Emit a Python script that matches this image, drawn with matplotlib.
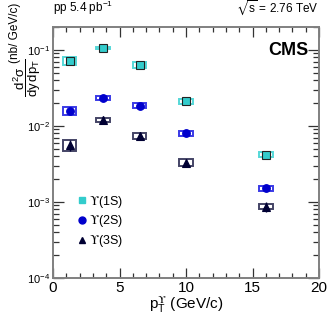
import matplotlib
matplotlib.use("Agg")
import matplotlib.pyplot as plt
from matplotlib.patches import Rectangle
from matplotlib.ticker import LogLocator, MultipleLocator, NullFormatter
import numpy as np

plt.rcParams['font.family'] = ['Liberation Sans', 'DejaVu Sans']
plt.rcParams['mathtext.fontset'] = 'custom'
plt.rcParams['mathtext.rm'] = 'Liberation Sans'
plt.rcParams['mathtext.it'] = 'Liberation Sans'
plt.rcParams['mathtext.bf'] = 'Liberation Sans:bold'
plt.rcParams['mathtext.sf'] = 'STIXGeneral'
plt.rcParams['mathtext.fallback'] = 'stixsans'

UPS = r'$\mathsf{' + '\u03d2' + r'}$'

# pT bin centres (GeV/c)
pt = [1.25, 3.75, 6.5, 10.0, 16.0]

# cross sections (nb / GeV/c)
ups1s = [0.072, 0.105, 0.063, 0.021, 0.0042]
ups2s = [0.0158, 0.0230, 0.0185, 0.0080, 0.00152]
ups3s = [0.0056, 0.0120, 0.0074, 0.0033, 0.00087]

# relative statistical errors
stat1s = [0.02, 0.02, 0.02, 0.03, 0.04]
stat2s = [0.05, 0.04, 0.04, 0.06, 0.08]
stat3s = [0.17, 0.12, 0.12, 0.12, 0.16]

# relative systematic errors (boxes)
syst1s = [0.11, 0.035, 0.09, 0.07, 0.07]
syst2s = [0.12, 0.06, 0.08, 0.08, 0.07]
syst3s = [0.17, 0.065, 0.10, 0.10, 0.07]

labels = [UPS + '(1S)', UPS + '(2S)', UPS + '(3S)']

fig = plt.figure(figsize=(3.32, 3.17), dpi=100)
ax = fig.add_axes([0.16, 0.123, 0.801, 0.792])

series = [
    (ups1s, stat1s, syst1s, 's', '#33cccc', '#222222', '#55d8d8'),
    (ups2s, stat2s, syst2s, 'o', '#0000cc', '#0000cc', '#3a3ae6'),
    (ups3s, stat3s, syst3s, '^', '#000033', '#000033', '#444466'),
]

handles = []
for (vals, st, sy, mk, fc, ec, bc), lab in zip(series, labels):
    vals = np.array(vals)
    for x, v, s in zip(pt, vals, sy):
        ax.add_patch(Rectangle((x - 0.5, v * (1 - s)), 1.0, 2 * s * v,
                               fill=False, edgecolor=bc, lw=1.4, zorder=2))
    ax.errorbar(pt, vals, yerr=vals * np.array(st), fmt='none',
                ecolor=fc, elinewidth=1.0, capsize=0, zorder=3)
    ax.plot(pt, vals, mk, color=fc, mec=ec, mew=0.8, ms=5.5, zorder=4)
    h, = ax.plot([], [], mk, color=fc, mec=fc, ms=5, label=lab)
    handles.append(h)

ax.set_xlim(0, 20)
ax.set_yscale('log')
ax.set_ylim(1e-4, 0.2)

ax.xaxis.set_major_locator(MultipleLocator(5))
ax.xaxis.set_minor_locator(MultipleLocator(1))
ax.yaxis.set_major_locator(LogLocator(base=10, numticks=10))
ax.yaxis.set_minor_locator(LogLocator(base=10, subs=np.arange(2, 10), numticks=20))
ax.yaxis.set_minor_formatter(NullFormatter())

for sp in ax.spines.values():
    sp.set_color('#808080')
    sp.set_linewidth(1.4)

ax.tick_params(which='both', direction='in', top=True, right=True, color='#333333')
ax.tick_params(axis='x', which='major', length=7, width=0.9, labelsize=11, pad=2)
ax.tick_params(axis='x', which='minor', length=3.5, width=0.9)
ax.tick_params(axis='y', which='major', length=8, width=0.9, labelsize=8, pad=2)
ax.tick_params(axis='y', which='minor', length=4, width=0.9)

ax.set_xlabel(r'p$_{\mathrm{T}}^{\mathsf{' + '\u03d2' + r'}}$ (GeV/c)', fontsize=11, labelpad=0)

# y title: fraction plus units, as in the ROOT layout
fig.text(0.082, 0.755, r'$\dfrac{d^{2}\sigma}{dy\,dp_{T}}$', rotation=90,
         ha='center', va='center', fontsize=9.5)
fig.text(0.045, 0.993, '(nb/ GeV/c)', rotation=90, ha='center', va='top',
         fontsize=8.5)

fig.text(0.16, 0.945, r'pp 5.4 pb$^{-1}$', fontsize=8.5, ha='left', va='bottom')
fig.text(0.961, 0.945, r'$\sqrt{s}$ = 2.76 TeV', fontsize=8.5, ha='right', va='bottom')
ax.text(0.96, 0.94, 'CMS', transform=ax.transAxes, fontsize=13, fontweight='bold',
        ha='right', va='top')

leg = ax.legend(handles=handles, loc='lower left', bbox_to_anchor=(0.07, 0.09),
                frameon=False, fontsize=9, handlelength=0.6, handletextpad=0.3,
                labelspacing=0.3, borderpad=0)

fig.savefig('out.png', dpi=100)
